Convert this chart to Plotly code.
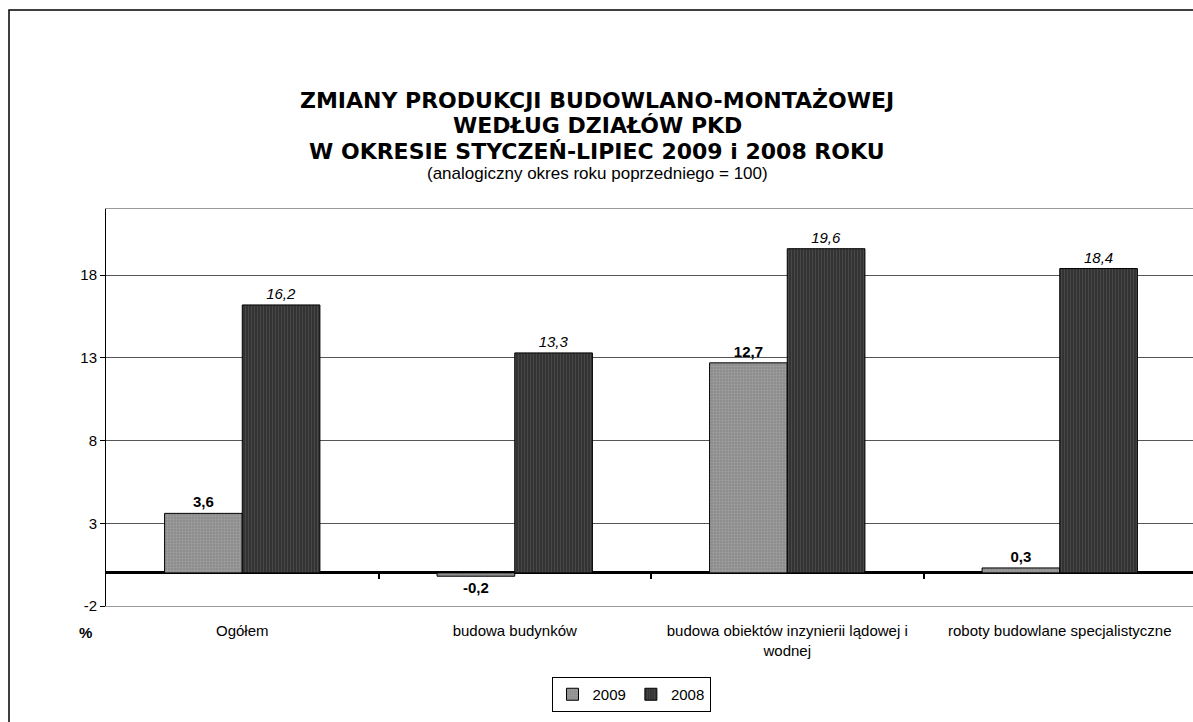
import plotly.graph_objects as go

categories = ["Ogółem", "budowa budynków", "budowa obiektów inzynierii lądowej i<br>wodnej",
              "roboty budowlane specjalistyczne"]
values_2009 = [3.6, -0.2, 12.7, 0.3]
values_2008 = [16.2, 13.3, 19.6, 18.4]
y_ticks = [-2, 3, 8, 13, 18]
title_lines = ["ZMIANY PRODUKCJI BUDOWLANO-MONTAŻOWEJ", "WEDŁUG DZIAŁÓW PKD",
               "W OKRESIE STYCZEŃ-LIPIEC 2009 i 2008 ROKU"]
subtitle = "(analogiczny okres roku poprzedniego = 100)"

W, H = 1193, 722
L, T, B = 106, 209, 606
PH = B - T
band = 272.5
xmax = -0.5 + (W - L) / band

def py(p):  # pixel y -> paper y
    return (B - p) / PH

def px(p):
    return (p - L) / (W - L)

def fmt(v):
    return f"{v:.1f}".replace(".", ",")

FONT = "Liberation Sans, Arial, sans-serif"
TFONT = "DejaVu Sans, Liberation Sans, sans-serif"
FS = 15

fig = go.Figure()
fig.add_trace(go.Bar(
    name="2009", x=categories, y=values_2009,
    text=[fmt(v) for v in values_2009], textposition="outside",
    textfont=dict(family=FONT, size=FS, color="black", weight="bold"),
    marker=dict(color="#969696", line=dict(color="black", width=1),
                pattern=dict(shape=".", fgcolor="#b8b8b8", bgcolor="#8c8c8c", size=3, solidity=0.35)),
    cliponaxis=False,
))
fig.add_trace(go.Bar(
    name="2008", x=categories, y=values_2008,
    text=[fmt(v) for v in values_2008], textposition="outside",
    textfont=dict(family=FONT, size=FS, color="black", style="italic"),
    marker=dict(color="#3c3c3c", line=dict(color="black", width=1),
                pattern=dict(shape="|", fgcolor="#606060", bgcolor="#303030", size=3, solidity=0.4)),
    cliponaxis=False,
))
fig.add_trace(go.Scatter(x=[0], y=[0], xaxis="x2", yaxis="y", mode="none",
                         showlegend=False, hoverinfo="skip"))

annotations = []
for i, line in enumerate(title_lines):
    annotations.append(dict(text=f"<b>{line}</b>", x=px(597), y=py(100 + i * 25.5),
                            xref="paper", yref="paper", showarrow=False,
                            xanchor="center", yanchor="middle",
                            font=dict(family=TFONT, size=22, color="black")))
annotations.append(dict(text=subtitle, x=px(597), y=py(174), xref="paper", yref="paper",
                        showarrow=False, xanchor="center", yanchor="middle",
                        font=dict(family=FONT, size=17, color="black")))
annotations.append(dict(text="<b>%</b>", x=px(85), y=py(632), xref="paper", yref="paper",
                        showarrow=False, xanchor="center", yanchor="middle",
                        font=dict(family=FONT, size=FS, color="black")))

fig.update_layout(
    width=W, height=H,
    margin=dict(l=L, r=0, t=T, b=H - B, pad=0),
    paper_bgcolor="white", plot_bgcolor="white",
    font=dict(family=FONT, size=FS, color="black"),
    barmode="group", bargap=0.43, bargroupgap=0,
    showlegend=True,
    legend=dict(orientation="h", x=px(631), y=py(677), xanchor="center", yanchor="top",
                bordercolor="black", borderwidth=1, font=dict(family=FONT, size=FS),
                itemwidth=30, tracegroupgap=0),
    xaxis=dict(type="category", range=[-0.5, xmax], showline=True, linecolor="#999999",
               linewidth=1, mirror=True, showgrid=False, ticks="outside", ticklen=11,
               tickcolor="rgba(0,0,0,0)", tickfont=dict(family=FONT, size=FS)),
    xaxis2=dict(overlaying="x", anchor="free", position=2 / 24, range=[-0.5, xmax],
                showline=False, showgrid=False, zeroline=False, ticks="outside",
                ticklen=5, tickwidth=2, tickcolor="black",
                tickvals=[0.5, 1.5, 2.5], showticklabels=False),
    yaxis=dict(range=[-2, 22], tickvals=y_ticks, ticktext=[str(v) for v in y_ticks],
               showline=True, linecolor="black", linewidth=1, ticks="outside",
               ticklen=5, tickcolor="black", showgrid=True, gridcolor="#555555",
               gridwidth=1, zeroline=True, zerolinecolor="black", zerolinewidth=3,
               tickfont=dict(family=FONT, size=FS)),
    annotations=annotations,
    shapes=[dict(type="rect", xref="paper", yref="paper", x0=px(9), x1=1.2,
                 y0=-1, y1=py(10), line=dict(color="black", width=1.5),
                 fillcolor="rgba(0,0,0,0)", layer="below")],
)

fig.write_html("out.html", config={"displayModeBar": False},
               post_script="document.body.style.margin='0';document.body.style.overflow='hidden';")
